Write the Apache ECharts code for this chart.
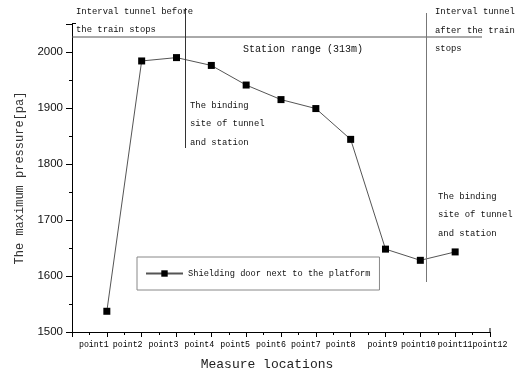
<!DOCTYPE html>
<html>
<head>
<meta charset="utf-8">
<script src="https://cdn.jsdelivr.net/npm/echarts@6/dist/echarts.min.js"></script>
<style>
html,body{margin:0;padding:0;background:#fff;}
#chart{width:517px;height:376px;}
</style>
</head>
<body>
<div id="chart"></div>
<script>
// ---- data ----
var categories = ['point1','point2','point3','point4','point5','point6','point7','point8','point9','point10','point11','point12'];
var shieldingDoor = [1537, 1984, 1990, 1976, 1941, 1915, 1899, 1844, 1648, 1628, 1643];
var seriesName = 'Shielding door next to the platform';
var yTicks = [1500, 1600, 1700, 1800, 1900, 2000];
var yMin = 1500, yMax = 2050, yStep = 100;
var xTitle = 'Measure locations';
var yTitle = 'The maximum pressure[pa]';

// ---- styles ----
var labelShift = [13, 14, 13, 12, 11, 10, 10, 10, 3, 2, 0, 0];
var mono = '"Liberation Mono", "DejaVu Sans Mono", monospace';
var annStyle = { fontFamily: mono, fontSize: 8.9, fill: '#111' };

// ---- build ----
var seriesData = shieldingDoor.map(function (v, i) { return [i + 1, v]; });
var richLabels = {};
labelShift.forEach(function (s, i) {
  richLabels['l' + (i + 1)] = { fontFamily: mono, fontSize: 8.3, color: '#000', padding: [0, 2 * s, 0, 0] };
});

function txt(x, y, s, size) {
  var st = Object.assign({ text: s }, annStyle);
  if (size) st.fontSize = size;
  return { type: 'text', left: x, top: y - 6, style: st, z: 10 };
}
function ln(x1, y1, x2, y2, c) {
  return { type: 'line', shape: { x1: x1, y1: y1, x2: x2, y2: y2 }, style: { stroke: c || '#444', lineWidth: 1 }, z: 5 };
}

var chart = echarts.init(document.getElementById('chart'));
chart.setOption({
  animation: false,
  backgroundColor: '#fff',
  grid: { left: 72, right: 27, top: 24, bottom: 43, containLabel: false },
  legend: {
    left: 137, top: 257,
    orient: 'horizontal',
    padding: [12, 9, 12, 8],
    itemWidth: 37, itemHeight: 8, itemGap: 4,
    borderColor: '#888', borderWidth: 1,
    textStyle: { fontFamily: mono, fontSize: 8.7, color: '#111' },
    data: [seriesName]
  },
  xAxis: {
    type: 'value', min: 0, max: categories.length, interval: 1,
    name: xTitle, nameLocation: 'middle', nameGap: 26,
    nameTextStyle: { fontFamily: mono, fontSize: 13, color: '#222', padding: [0, 28, 0, 0] },
    axisLine: { show: true, lineStyle: { color: '#000', width: 1 } },
    axisTick: { show: true, inside: false, length: 5, lineStyle: { color: '#000' } },
    minorTick: { show: true, splitNumber: 2, length: 3, lineStyle: { color: '#000' } },
    splitLine: { show: false },
    axisLabel: {
      margin: 9, showMaxLabel: true, showMinLabel: true, hideOverlap: false,
      formatter: function (v) {
        return v >= 1 && v <= categories.length ? '{l' + v + '|' + categories[v - 1] + '}' : '';
      },
      rich: richLabels
    }
  },
  yAxis: {
    type: 'value', min: yMin, max: yMax, interval: yStep,
    name: yTitle, nameLocation: 'middle', nameGap: 46,
    nameTextStyle: { fontFamily: mono, fontSize: 12, color: '#333' },
    axisLine: { show: true, lineStyle: { color: '#000', width: 1 } },
    axisTick: { show: true, inside: false, length: 6, lineStyle: { color: '#000' } },
    minorTick: { show: true, splitNumber: 2, length: 3, lineStyle: { color: '#000' } },
    splitLine: { show: false },
    axisLabel: {
      margin: 9, fontFamily: '"Liberation Sans", Arial, sans-serif', fontSize: 11.5, color: '#111',
      showMaxLabel: false,
      formatter: function (v) { return yTicks.indexOf(v) >= 0 ? String(v) : ''; }
    }
  },
  series: [{
    name: seriesName,
    type: 'line',
    data: seriesData,
    symbol: 'rect', symbolSize: 7,
    itemStyle: { color: '#000' },
    lineStyle: { color: '#555', width: 1 },
    z: 3
  }],
  graphic: [
    ln(72, 37, 482, 37, '#555'),
    ln(185.5, 8, 185.5, 148, '#333'),
    ln(426.5, 13, 426.5, 282, '#777'),
    ln(72, 23.5, 76, 23.5, '#000'),
    ln(490, 333, 490, 328, '#000'),
    txt(76, 13, 'Interval tunnel before'),
    txt(76, 31, 'the train stops'),
    txt(243, 50, 'Station range (313m)', 10),
    txt(435, 13, 'Interval tunnel'),
    txt(435, 32, 'after the train'),
    txt(435, 50, 'stops'),
    txt(190, 107, 'The binding'),
    txt(190, 125.5, 'site of tunnel'),
    txt(190, 144, 'and station'),
    txt(438, 198, 'The binding'),
    txt(438, 216.5, 'site of tunnel'),
    txt(438, 235, 'and station')
  ]
});
</script>
</body>
</html>
